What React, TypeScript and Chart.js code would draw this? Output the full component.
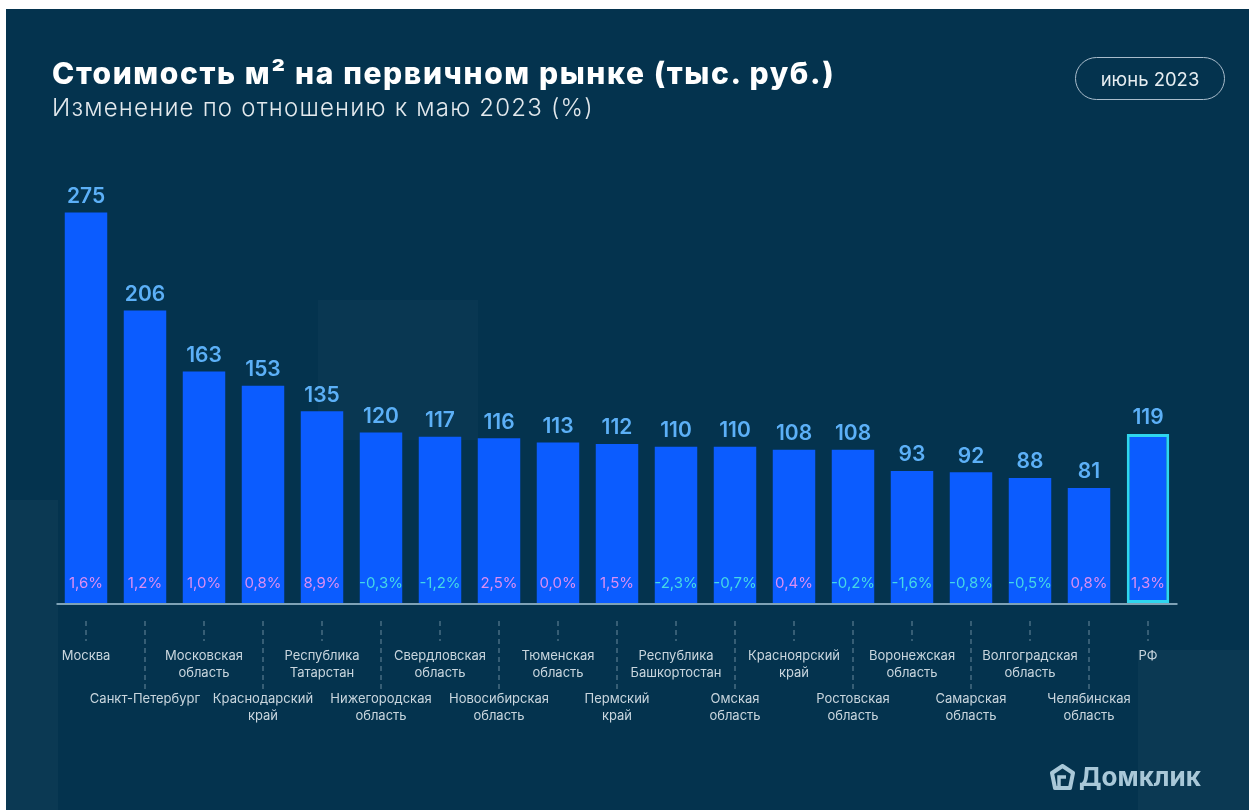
import React, { useEffect, useRef } from "react";
import { Chart, registerables } from "chart.js";

Chart.register(...registerables);

const categories: string[][] = [
  ["Москва"],
  ["Санкт-Петербург"],
  ["Московская", "область"],
  ["Краснодарский", "край"],
  ["Республика", "Татарстан"],
  ["Нижегородская", "область"],
  ["Свердловская", "область"],
  ["Новосибирская", "область"],
  ["Тюменская", "область"],
  ["Пермский", "край"],
  ["Республика", "Башкортостан"],
  ["Омская", "область"],
  ["Красноярский", "край"],
  ["Ростовская", "область"],
  ["Воронежская", "область"],
  ["Самарская", "область"],
  ["Волгоградская", "область"],
  ["Челябинская", "область"],
  ["РФ"],
];

const prices: number[] = [275, 206, 163, 153, 135, 120, 117, 116, 113, 112, 110, 110, 108, 108, 93, 92, 88, 81, 119];

const changes: number[] = [1.6, 1.2, 1.0, 0.8, 8.9, -0.3, -1.2, 2.5, 0.0, 1.5, -2.3, -0.7, 0.4, -0.2, -1.6, -0.8, -0.5, 0.8, 1.3];

const yMax = 300;

const BG = "#04334e";
const BAR = "#0b5cff";
const HIGHLIGHT = "#2fd6ef";
const FONT = "Inter, 'Noto Sans', sans-serif";

const fmtPct = (v: number) => v.toFixed(1).replace(".", ",") + "%";

const overlayPlugin = {
  id: "overlay",
  afterDatasetsDraw(chart: any) {
    const { ctx, chartArea, scales } = chart;
    const yScale = scales.y;
    const base = yScale.getPixelForValue(0);
    const meta = chart.getDatasetMeta(0);
    ctx.save();
    ctx.strokeStyle = "#7fa2b6";
    ctx.lineWidth = 2;
    ctx.beginPath();
    ctx.moveTo(chartArea.left, base + 1);
    ctx.lineTo(chartArea.right, base + 1);
    ctx.stroke();

    meta.data.forEach((bar: any, i: number) => {
      const cx = bar.x;
      ctx.fillStyle = "#5cb0f7";
      ctx.font = `600 21px ${FONT}`;
      ctx.textAlign = "center";
      ctx.textBaseline = "middle";
      ctx.fillText(String(prices[i]), cx, bar.y - 16);

      ctx.font = `15px ${FONT}`;
      ctx.fillStyle = changes[i] < 0 ? "#45d8e6" : "#dc8ef3";
      ctx.fillText(fmtPct(changes[i]), cx, base - 20);

      const odd = i % 2 === 1;
      ctx.strokeStyle = "rgba(190,210,222,0.55)";
      ctx.lineWidth = 1;
      ctx.setLineDash([5, 4]);
      ctx.beginPath();
      ctx.moveTo(cx, base + 18);
      ctx.lineTo(cx, base + (odd ? 86 : 38));
      ctx.stroke();
      ctx.setLineDash([]);

      ctx.fillStyle = "#c9d6de";
      ctx.font = `13px ${FONT}`;
      const startY = base + (odd ? 96 : 53);
      categories[i].forEach((line, k) => {
        ctx.fillText(line, cx, startY + k * 17);
      });
    });
    ctx.restore();
  },
};

function ChartCanvas() {
  const ref = useRef<HTMLCanvasElement | null>(null);
  useEffect(() => {
    if (!ref.current) return;
    const n = prices.length;
    const chart = new Chart(ref.current, {
      type: "bar",
      data: {
        labels: categories.map((c) => c.join(" ")),
        datasets: [
          {
            data: prices,
            backgroundColor: prices.map(() => BAR),
            borderColor: prices.map((_, i) => (i === n - 1 ? HIGHLIGHT : BAR)),
            borderWidth: prices.map((_, i) => (i === n - 1 ? 3 : 0)),
            borderSkipped: false,
            barPercentage: 0.72,
            categoryPercentage: 1,
          },
        ],
      },
      options: {
        animation: false,
        responsive: false,
        maintainAspectRatio: false,
        layout: { padding: { left: 50.5, right: 71.5, top: 168, bottom: 207 } },
        plugins: { legend: { display: false }, tooltip: { enabled: false } },
        scales: {
          x: { display: false, offset: true, grid: { display: false } },
          y: { display: false, min: 0, max: yMax, grid: { display: false } },
        },
      },
      plugins: [overlayPlugin],
    });
    return () => chart.destroy();
  }, []);
  return <canvas ref={ref} width={1243} height={801} style={{ position: "absolute", left: 0, top: 0, width: 1243, height: 801 }} />;
}

export default function App() {
  return (
    <div
      style={{
        position: "fixed",
        left: 6,
        top: 9,
        width: 1243,
        height: 801,
        background: BG,
        overflow: "hidden",
        fontFamily: FONT,
      }}
    >
      <div style={{ position: "absolute", left: 312, top: 291, width: 160, height: 140, background: "rgba(255,255,255,0.025)" }} />
      <div style={{ position: "absolute", left: 0, top: 491, width: 52, height: 310, background: "rgba(255,255,255,0.03)" }} />
      <div style={{ position: "absolute", left: 1132, top: 641, width: 111, height: 160, background: "rgba(255,255,255,0.03)" }} />
      <ChartCanvas />
      <div
        style={{
          position: "absolute",
          left: 46,
          top: 49,
          fontSize: 30,
          lineHeight: "30px",
          fontWeight: 800,
          letterSpacing: 1.6,
          color: "#ffffff",
          whiteSpace: "nowrap",
        }}
      >
        Стоимость м² на первичном рынке (тыс. руб.)
      </div>
      <div
        style={{
          position: "absolute",
          left: 46,
          top: 87,
          fontSize: 24,
          lineHeight: "24px",
          fontWeight: 300,
          letterSpacing: 1.2,
          color: "#e3e9ed",
          whiteSpace: "nowrap",
        }}
      >
        Изменение по отношению к маю 2023 (%)
      </div>
      <div
        style={{
          position: "absolute",
          left: 1069,
          top: 48,
          width: 150,
          height: 43,
          boxSizing: "border-box",
          border: "1.5px solid #a9bccb",
          borderRadius: 22,
          display: "flex",
          alignItems: "center",
          justifyContent: "center",
          color: "#e6edf1",
          fontSize: 18.5,
        }}
      >
        июнь 2023
      </div>
      <div
        style={{
          position: "absolute",
          left: 1044,
          top: 752,
          display: "flex",
          alignItems: "center",
          gap: 4,
          color: "#a9c8d8",
          fontSize: 26,
          fontWeight: 700,
        }}
      >
        <svg width="25" height="26" viewBox="0 0 25 26">
          <path d="M12.5 2 L23 9 L20 24 L5 24 L2 9 Z" fill="none" stroke="#a9c8d8" strokeWidth="4" strokeLinejoin="round" />
          <path d="M9 24 L9 13 L16 13" fill="none" stroke="#a9c8d8" strokeWidth="3.5" />
        </svg>
        <span>Домклик</span>
      </div>
    </div>
  );
}
